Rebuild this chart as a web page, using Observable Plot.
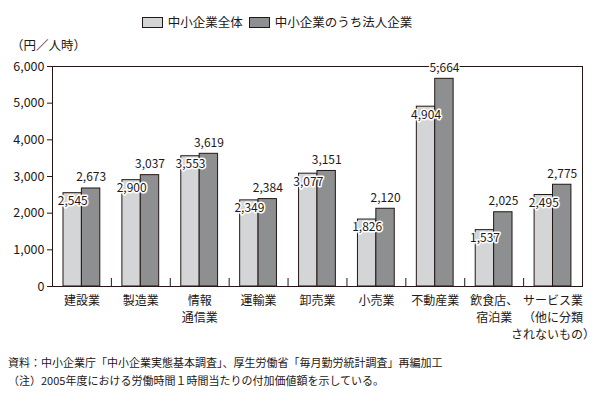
<!DOCTYPE html>
<html><head><meta charset="utf-8">
<script src="https://cdn.jsdelivr.net/npm/d3@7"></script>
<script src="https://cdn.jsdelivr.net/npm/@observablehq/plot@0.6"></script>
<style>
body{margin:0;background:#fff;font-family:"Noto Sans CJK JP",sans-serif;color:#231815}
#wrap{position:relative;width:600px;height:395px;overflow:hidden}
#legend{position:absolute;left:0;width:554px;top:13px;height:18px;display:flex;justify-content:center;align-items:center;font-size:12.5px;line-height:18px;gap:0}
#legend .item{display:flex;align-items:center;margin:0 3px}
#legend .sw{width:19px;height:9px;border:1px solid #231815;margin-right:5px}
#ylab{position:absolute;left:11px;top:37px;font-size:12.5px;line-height:16px}
#notes{position:absolute;left:8px;top:353px;font-size:11px;line-height:18px;white-space:nowrap}
#chart{position:absolute;left:0;top:0}
</style></head>
<body><div id="wrap">
<div id="chart"></div>
<div id="legend"></div>
<div id="ylab">（円／人時）</div>
<div id="notes"></div>
</div>
<script>
const categories = ["建設業","製造業","情報\n通信業","運輸業","卸売業","小売業","不動産業","飲食店、\n宿泊業","サービス業\n（他に分類\nされないもの）"];
const seriesNames = ["中小企業全体","中小企業のうち法人企業"];
const allSme = [2545,2900,3553,2349,3077,1826,4904,1537,2495];
const corporate = [2673,3037,3619,2384,3151,2120,5664,2025,2775];
const yTicks = [0,1000,2000,3000,4000,5000,6000];
const noteLines = ["資料：中小企業庁「中小企業実態基本調査」、厚生労働省「毎月勤労統計調査」再編加工","（注）2005年度における労働時間１時間当たりの付加価値額を示している。"];
const colors = ["#d4d5d7","#8e8f91"];
const ink = "#231815";

const rows = categories.map((c,i)=>({cat:c, a:allSme[i], b:corporate[i]}));
const W=600,H=395,mL=52,mR=18,mT=66,mB=109;
const bw = (W-mL-mR)/categories.length;
const fmt = d3.format(",");

const plot = Plot.plot({
  width:W, height:H, marginTop:mT, marginBottom:mB, marginLeft:mL, marginRight:mR,
  style:{fontFamily:'"Noto Sans CJK JP", sans-serif', fontSize:"12px", color:ink, background:"transparent"},
  x:{domain:categories, type:"band", padding:0, round:false},
  y:{domain:[0,6000]},
  marks:[
    Plot.barY(rows,{x:"cat", y:"a", fill:colors[0], stroke:ink, strokeWidth:1, insetLeft:11, insetRight:bw-11-18.4}),
    Plot.barY(rows,{x:"cat", y:"b", fill:colors[1], stroke:ink, strokeWidth:1, insetLeft:11+18.4, insetRight:bw-11-2*18.4}),
    Plot.frame({stroke:ink, strokeWidth:1}),
    Plot.tickX(categories.slice(1),{x:d=>d, dx:-bw/2, insetTop:(H-mT-mB)-8, stroke:ink}),
    Plot.axisY({ticks:yTicks, tickFormat:fmt, tickSize:5, tickPadding:3, fontSize:12.5, label:null, stroke:ink}),
    Plot.axisX({tickSize:0, tickPadding:7, lineHeight:1.4, label:null, fontSize:12}),
    Plot.text(rows,{x:"cat", y:"a", text:d=>fmt(d.a), dx:-9.2, dy:8, fill:ink, stroke:"white", strokeWidth:3, fontSize:12}),
    Plot.text(rows,{x:"cat", y:"b", text:d=>fmt(d.b), dx:9.2, dy:-11, fill:ink, stroke:"white", strokeWidth:3, fontSize:12})
  ]
});
document.getElementById("chart").appendChild(plot);

const lg = document.getElementById("legend");
seriesNames.forEach((n,i)=>{
  const it=document.createElement("div"); it.className="item";
  const sw=document.createElement("div"); sw.className="sw"; sw.style.background=colors[i];
  const t=document.createElement("span"); t.textContent=n;
  it.appendChild(sw); it.appendChild(t); lg.appendChild(it);
});
const nt=document.getElementById("notes");
noteLines.forEach(l=>{const d=document.createElement("div");d.textContent=l;nt.appendChild(d);});
</script>
</body></html>
